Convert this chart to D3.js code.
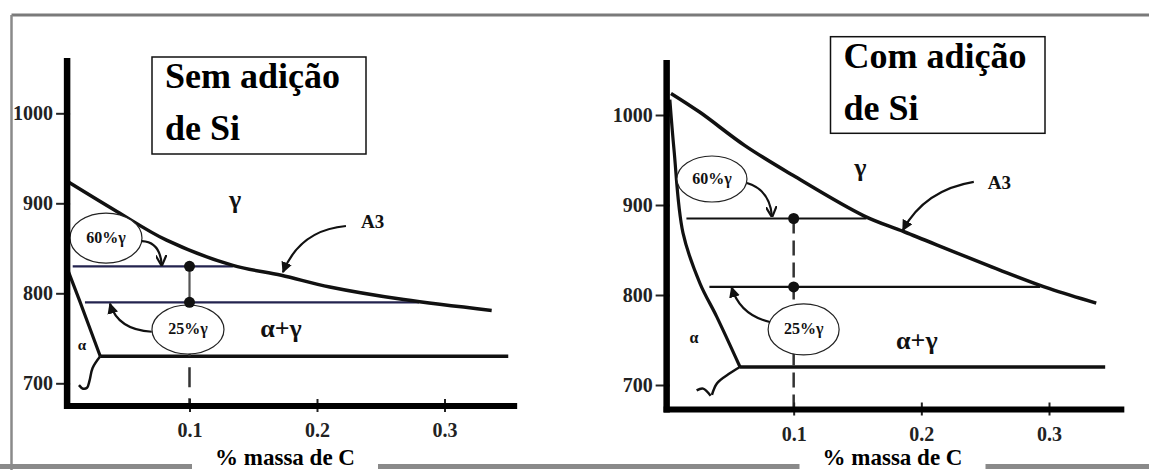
<!DOCTYPE html>
<html><head><meta charset="utf-8">
<script src="https://cdn.jsdelivr.net/npm/d3@7"></script>
<style>body{margin:0;background:#fff}svg{display:block}</style>
</head><body><svg id="c" width="1149" height="470"></svg>
<script>
// ---------- shared ticks ----------
const xTicks = [0.1, 0.2, 0.3];
const yTicks = [700, 800, 900, 1000];
const xAxisTitle = "% massa de C";

// ---------- left panel: Sem adição de Si ----------
const semTitle = ["Sem adição", "de Si"];
const semA3 = [[0.0047,924],[0.043,891],[0.082,859],[0.134,831],[0.172,820],[0.21,807],[0.268,793],[0.337,781]];
const semAlpha = [[0.004,828],[0.014,791],[0.03,730]];
const semAlphaLow = [[0.03,730],[0.024,717],[0.0216,703],[0.0196,695],[0.0165,694],[0.0133,698]];
const semEutectoid = [[0.03,730],[0.35,730]];
const sem60 = [[0.0084,830],[0.134,830]];
const sem25 = [[0.018,790],[0.28,790]];
const semDots = [[0.1,830],[0.1,790]];

// ---------- right panel: Com adição de Si ----------
const comTitle = ["Com adição", "de Si"];
const comA3 = [[0.0039,1024],[0.0266,1003],[0.0618,966],[0.0994,933],[0.155,888],[0.187,870],[0.261,828],[0.3005,807],[0.337,791]];
const comAlpha = [[0.003,1017],[0.0063,961],[0.0133,869],[0.0266,813],[0.0397,776],[0.058,720]];
const comAlphaLow = [[0.058,720],[0.05,713],[0.04,702],[0.036,689]];
const comTilde = [[0.024,694],[0.029,696],[0.035,688]];
const comEutectoid = [[0.058,720],[0.344,720]];
const com60 = [[0.016,885],[0.157,885]];
const com25 = [[0.034,809],[0.293,809]];
const comDots = [[0.1,885],[0.1,809]];

const svg = d3.select("#c");
const defs = svg.append("defs");
defs.append("marker").attr("id","tri").attr("viewBox","0 0 10 10").attr("refX",9).attr("refY",5)
  .attr("markerWidth",11).attr("markerHeight",11).attr("markerUnits","userSpaceOnUse").attr("orient","auto")
  .append("path").attr("d","M0,0 L10,5 L0,10 z").attr("fill","#111");
defs.append("marker").attr("id","vee").attr("viewBox","0 0 10 10").attr("refX",9).attr("refY",5)
  .attr("markerWidth",11).attr("markerHeight",11).attr("markerUnits","userSpaceOnUse").attr("orient","auto")
  .append("path").attr("d","M0,0 L10,5 L0,10").attr("fill","none").attr("stroke","#111").attr("stroke-width",2);

// frame
svg.append("line").attr("x1",11.5).attr("x2",1149).attr("y1",15).attr("y2",15).attr("stroke","#7a7a7a").attr("stroke-width",3);
svg.append("line").attr("x1",11.5).attr("x2",11.5).attr("y1",15).attr("y2",470).attr("stroke","#8a8a8a").attr("stroke-width",2.5);
svg.append("line").attr("x1",0).attr("x2",1149).attr("y1",466.5).attr("y2",466.5).attr("stroke","#8a8a8a").attr("stroke-width",5);

const serif = "'Liberation Serif','Times New Roman',serif";

function panel(cfg) {
  const x = d3.scaleLinear().domain([0,0.3]).range([cfg.x0, cfg.x0 + cfg.xw]);
  const y = d3.scaleLinear().domain([700,1000]).range([cfg.y700, cfg.y700 - 270]);
  const g = svg.append("g");
  const line = d3.line().x(d=>x(d[0])).y(d=>y(d[1])).curve(d3.curveCatmullRom.alpha(0.5));
  const straight = d3.line().x(d=>x(d[0])).y(d=>y(d[1]));

  // title box
  g.append("rect").attr("x",cfg.box[0]).attr("y",cfg.box[1]).attr("width",cfg.box[2]).attr("height",cfg.box[3])
    .attr("fill","#fff").attr("stroke","#111").attr("stroke-width",1.5);
  cfg.title.forEach((t,i)=>{
    g.append("text").attr("x",cfg.box[0]+13).attr("y",cfg.box[1]+31+i*52).text(t)
      .attr("font-family",serif).attr("font-weight","bold").attr("font-size",36).attr("fill","#000");
  });

  // horizontal percentage lines
  [cfg.l60, cfg.l25].forEach(d=>{
    g.append("path").attr("d",straight(d)).attr("fill","none").attr("stroke",cfg.hColor).attr("stroke-width",2.2);
  });
  // eutectoid
  g.append("path").attr("d",straight(cfg.eut)).attr("fill","none").attr("stroke","#111").attr("stroke-width",3.5);
  // A3 curve
  g.append("path").attr("d",line(cfg.a3)).attr("fill","none").attr("stroke","#111").attr("stroke-width",3.5);
  // alpha boundary
  g.append("path").attr("d",line(cfg.alpha)).attr("fill","none").attr("stroke","#111").attr("stroke-width",3.2);
  g.append("path").attr("d",line(cfg.alphaLow)).attr("fill","none").attr("stroke","#111").attr("stroke-width",2.5);
  if (cfg.tilde) g.append("path").attr("d",line(cfg.tilde)).attr("fill","none").attr("stroke","#111").attr("stroke-width",2.5);

  // vertical connection at 0.1
  const d0 = cfg.dots[0], d1 = cfg.dots[1];
  if (cfg.solidLink) {
    g.append("line").attr("x1",x(d0[0])).attr("x2",x(d1[0])).attr("y1",y(d0[1])).attr("y2",y(d1[1]))
      .attr("stroke","#555").attr("stroke-width",2.2);
    g.append("line").attr("x1",x(d1[0])).attr("x2",x(d1[0])).attr("y1",y(d1[1])).attr("y2",cfg.axisY)
      .attr("stroke","#333").attr("stroke-width",2.5).attr("stroke-dasharray","20 11").attr("stroke-dashoffset",28);
  } else {
    g.append("line").attr("x1",x(d0[0])).attr("x2",x(d0[0])).attr("y1",y(d0[1])).attr("y2",cfg.axisY)
      .attr("stroke","#333").attr("stroke-width",2.5).attr("stroke-dasharray","15 7");
  }

  // ellipses with labels
  cfg.ellipses.forEach(e=>{
    g.append("ellipse").attr("cx",x(e.c[0])).attr("cy",y(e.c[1])).attr("rx",e.rx).attr("ry",e.ry)
      .attr("fill","#fff").attr("stroke","#222").attr("stroke-width",1.2);
    g.append("text").attr("x",x(e.c[0])).attr("y",y(e.c[1])+5).attr("text-anchor","middle").text(e.t)
      .attr("font-family",serif).attr("font-weight","bold").attr("font-size",16).attr("fill","#111");
  });

  // arrows
  cfg.arrows.forEach(a=>{
    g.append("path").attr("d",`M${x(a.p[0][0])},${y(a.p[0][1])} Q${x(a.p[1][0])},${y(a.p[1][1])} ${x(a.p[2][0])},${y(a.p[2][1])}`)
      .attr("fill","none").attr("stroke","#111").attr("stroke-width",2.2).attr("marker-end",`url(#${a.m})`);
  });

  // dots
  g.selectAll("circle.dot").data(cfg.dots).join("circle").attr("class","dot")
    .attr("cx",d=>x(d[0])).attr("cy",d=>y(d[1])).attr("r",5.5).attr("fill","#111");

  // phase labels
  cfg.labels.forEach(l=>{
    g.append("text").attr("x",x(l.p[0])).attr("y",y(l.p[1])).attr("text-anchor",l.a||"middle").text(l.t)
      .attr("font-family",serif).attr("font-weight","bold").attr("font-size",l.s).attr("fill","#111");
  });

  // axes
  const ax = x(cfg.axisC);
  const yAxis = d3.axisLeft(y).tickValues(yTicks).tickSize(10).tickPadding(4).tickFormat(d3.format("d"));
  const ya = g.append("g").attr("transform",`translate(${ax},0)`).call(yAxis);
  ya.select(".domain").remove();
  ya.selectAll(".tick line").attr("stroke","#222").attr("stroke-width",2).attr("x2",-11).attr("x1",3);
  ya.selectAll(".tick text").attr("font-family",serif).attr("font-weight","bold").attr("font-size",20).attr("fill","#222");

  const xAxis = d3.axisBottom(x).tickValues(xTicks).tickSize(6).tickPadding(11).tickFormat(d3.format(".1f"));
  const xa = g.append("g").attr("transform",`translate(0,${cfg.axisY})`).call(xAxis);
  xa.select(".domain").remove();
  xa.selectAll(".tick line").attr("stroke","#222").attr("stroke-width",2).attr("y1",-7).attr("y2",6);
  xa.selectAll(".tick text").attr("font-family",serif).attr("font-weight","bold").attr("font-size",20).attr("fill","#222");

  g.append("line").attr("x1",ax).attr("x2",ax).attr("y1",cfg.axisTop).attr("y2",cfg.axisY+3)
    .attr("stroke","#000").attr("stroke-width",6.5);
  g.append("line").attr("x1",ax-3).attr("x2",x(cfg.xEnd)).attr("y1",cfg.axisY).attr("y2",cfg.axisY)
    .attr("stroke","#000").attr("stroke-width",6);

  // x-axis title on white
  g.append("rect").attr("x",cfg.titleX-93).attr("y",448).attr("width",186).attr("height",22).attr("fill","#fff");
  g.append("text").attr("x",cfg.titleX).attr("y",465).attr("text-anchor","middle").text(xAxisTitle)
    .attr("font-family",serif).attr("font-weight","bold").attr("font-size",23).attr("fill","#000");
}

panel({
  x0: 62, xw: 382.5, y700: 383.3, axisC: 0.004, axisY: 406, axisTop: 58, xEnd: 0.357,
  box: [152, 57, 214, 97], title: semTitle, titleX: 285, hColor: "#23234f",
  a3: semA3, alpha: semAlpha, alphaLow: semAlphaLow, eut: semEutectoid,
  l60: sem60, l25: sem25, dots: semDots, solidLink: true,
  ellipses: [{c:[0.0345,861.4], rx:36, ry:25, t:"60%γ"}, {c:[0.0988,759.8], rx:36, ry:24.5, t:"25%γ"}],
  arrows: [
    {p:[[0.0627,858],[0.077,857],[0.0782,831.5]], m:"vee"},
    {p:[[0.0704,757.3],[0.0439,759.2],[0.0376,788.5]], m:"tri"},
    {p:[[0.2227,874.8],[0.1867,870.3],[0.1733,823.5]], m:"tri"}
  ],
  labels: [
    {t:"γ", p:[0.1357,894.8], s:26},
    {t:"α+γ", p:[0.1718,751.4], s:26},
    {t:"α", p:[0.0157,737], s:15},
    {t:"A3", p:[0.2345,872.6], s:19, a:"start"}
  ]
});

panel({
  x0: 666, xw: 383, y700: 385, axisC: 0.0005, axisY: 409.5, axisTop: 60, xEnd: 0.359,
  box: [830.5, 36.7, 214.5, 96.6], title: comTitle, titleX: 892.5, hColor: "#111",
  a3: comA3, alpha: comAlpha, alphaLow: comAlphaLow, tilde: comTilde, eut: comEutectoid,
  l60: com60, l25: com25, dots: comDots, solidLink: false,
  ellipses: [{c:[0.036,928.9], rx:35, ry:23, t:"60%γ"}, {c:[0.1078,761.7], rx:35.5, ry:25.5, t:"25%γ"}],
  arrows: [
    {p:[[0.0634,924.4],[0.0814,916.7],[0.083,887.5]], m:"vee"},
    {p:[[0.0814,770],[0.0579,777.8],[0.0514,808.5]], m:"tri"},
    {p:[[0.2411,925.6],[0.2027,916.7],[0.1855,872]], m:"tri"}
  ],
  labels: [
    {t:"γ", p:[0.1522,932.2], s:26},
    {t:"α+γ", p:[0.1965,740], s:26},
    {t:"α", p:[0.0219,746.7], s:16},
    {t:"A3", p:[0.252,917.8], s:19, a:"start"}
  ]
});
</script></body></html>
